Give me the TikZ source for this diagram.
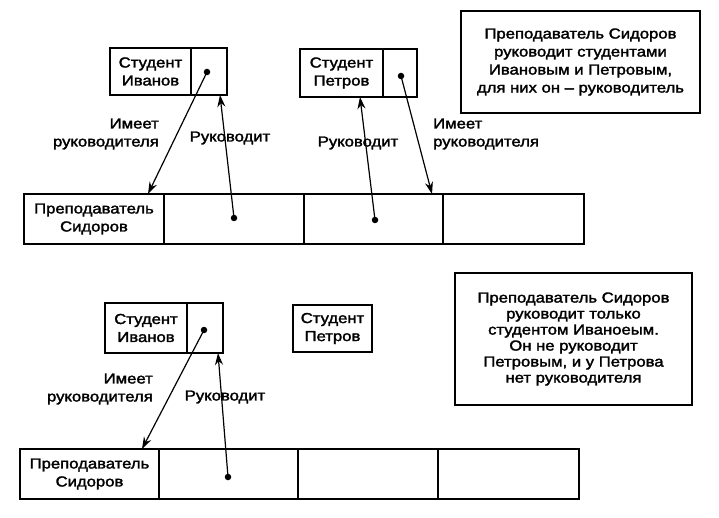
\documentclass[tikz,border=0pt]{standalone}
\usepackage{fontspec}
\setmainfont[FakeStretch=1.15,FakeBold=2]{Liberation Sans}
\usetikzlibrary{arrows.meta,positioning}
\newcommand\diagfont{\fontsize{14.5}{18}\selectfont}
\newcommand\notefont{\fontsize{14.5}{16}\selectfont}

\begin{document}
\begin{tikzpicture}[x=1pt,y=-1pt,
    box/.style={draw,line width=1.5pt,outer sep=0pt,inner sep=0pt,anchor=north west,align=center,font=\diagfont},
    dot/.style={circle,fill,inner sep=0pt,minimum size=6.5pt},
    lnk/.style={line width=1.2pt,-{Stealth[length=12pt,width=8pt]}},
    lbl/.style={font=\diagfont,inner sep=0pt}]
    \useasboundingbox (0,0) rectangle (719,518);

    % both students guided
    \node[box,minimum width=81,minimum height=47] (iv) at (110,48) {Студент\\Иванов};
    \node[box,minimum width=36,minimum height=47,right=0pt of iv] (ivc) {};
    \node[box,minimum width=83,minimum height=48] (pt) at (300,49) {Студент\\Петров};
    \node[box,minimum width=34,minimum height=48,right=0pt of pt] (ptc) {};
    \node[box,minimum width=140,minimum height=50] (t1) at (24,194) {Преподаватель\\Сидоров};
    \node[box,minimum width=140,minimum height=50,right=0pt of t1] (t2) {};
    \node[box,minimum width=139,minimum height=50,right=0pt of t2] (t3) {};
    \node[box,minimum width=141,minimum height=50,right=0pt of t3] (t4) {};
    \node[box,minimum width=239,minimum height=102] (note1) at (461,11)
        {Преподаватель Сидоров\\руководит студентами\\Ивановым и Петровым,\\для них он -- руководитель};

    \node[dot] (ivd) at (207,72) {};
    \node[dot] (ptd) at (401,76) {};
    \node[dot] (t2d) at (234,218) {};
    \node[dot] (t3d) at (375,220) {};
    \coordinate (t1in) at (148,194);
    \coordinate (t3in) at (432,194);
    \coordinate (ivin) at (220,95);
    \coordinate (ptin) at (360,97);

    \draw[lnk] (ivd.center) -- (t1in);
    \draw[lnk] (t2d.center) -- (ivin);
    \draw[lnk] (t3d.center) -- (ptin);
    \draw[lnk] (ptd.center) -- (t3in);

    \node[lbl,align=right,anchor=east] (has1) at (159,134) {Имеет\\руководителя};
    \node[lbl] (lead1) at (230,138) {Руководит};
    \node[lbl] (lead2) at (358,143) {Руководит};
    \node[lbl,align=left,anchor=west] (has2) at (433,134) {Имеет\\руководителя};

    % only Ivanov guided
    \node[box,minimum width=82,minimum height=50] (biv) at (105,303) {Студент\\Иванов};
    \node[box,minimum width=36,minimum height=50,right=0pt of biv] (bivc) {};
    \node[box,minimum width=79,minimum height=47] (bpt) at (293,305) {Студент\\Петров};
    \node[box,minimum width=139,minimum height=50] (b1) at (20,449) {Преподаватель\\Сидоров};
    \node[box,minimum width=139,minimum height=50,right=0pt of b1] (b2) {};
    \node[box,minimum width=140,minimum height=50,right=0pt of b2] (b3) {};
    \node[box,minimum width=141,minimum height=50,right=0pt of b3] (b4) {};
    \node[box,minimum width=237,minimum height=132,font=\notefont] (note2) at (455,273)
        {Преподаватель Сидоров\\руководит только\\студентом Иваноеым.\\Он не руководит\\Петровым, и у Петрова\\нет руководителя};

    \node[dot] (bivd) at (204,330) {};
    \node[dot] (b2d) at (228,477) {};
    \coordinate (b1in) at (142,449);
    \coordinate (bivin) at (218,353);

    \draw[lnk] (bivd.center) -- (b1in);
    \draw[lnk] (b2d.center) -- (bivin);

    \node[lbl,align=right,anchor=east] (has3) at (153,389) {Имеет\\руководителя};
    \node[lbl] (lead3) at (225,397) {Руководит};
\end{tikzpicture}
\end{document}
